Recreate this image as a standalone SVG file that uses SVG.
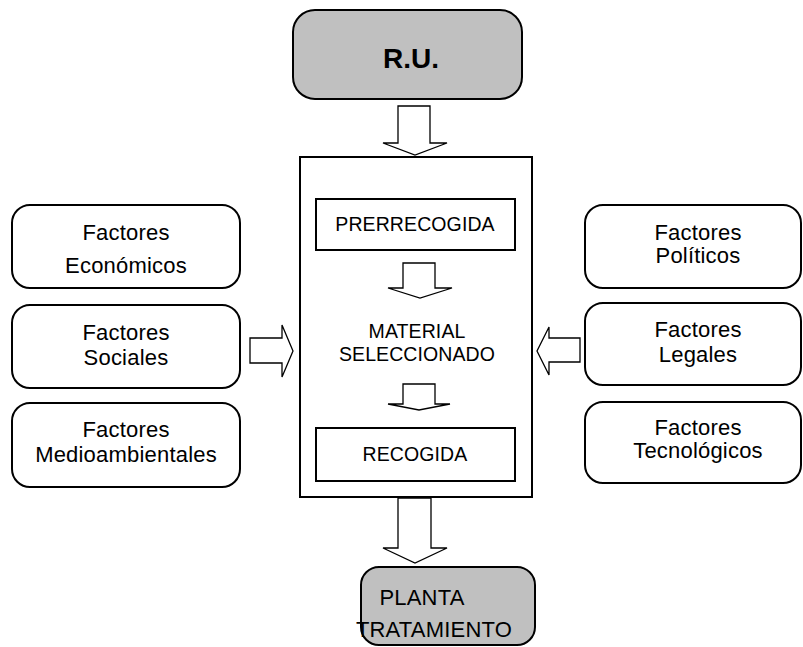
<svg xmlns="http://www.w3.org/2000/svg" width="803" height="647" viewBox="0 0 803 647">
  <style>
    .box { fill: #ffffff; stroke: #000000; stroke-width: 2; }
    .grey { fill: #c0c0c0; stroke: #000000; stroke-width: 2; }
    .arrow { fill: #ffffff; stroke: #000000; stroke-width: 1.3; stroke-linejoin: miter; }
    text { font-family: "Liberation Sans", Arial, sans-serif; font-size: 22px; letter-spacing: 0.2px; fill: #000000; text-anchor: middle; }
    .inner { font-size: 19.5px; letter-spacing: 0.1px; }
    .title { font-size: 28px; font-weight: bold; letter-spacing: 0; }
  </style>

  <!-- source node -->
  <g id="ru">
    <rect class="grey" x="293" y="10" width="229" height="89" rx="22" ry="22"/>
    <text class="title" x="411" y="68">R.U.</text>
  </g>

  <!-- central process block -->
  <g id="proceso">
    <rect class="box" x="300" y="157" width="232" height="340"/>
  </g>
  <g id="prerrecogida">
    <rect class="box" x="316" y="199" width="199" height="51"/>
    <text class="inner" x="415" y="231">PRERRECOGIDA</text>
  </g>
  <g id="material">
    <text class="inner" x="417" y="338">MATERIAL</text>
    <text class="inner" x="417" y="361">SELECCIONADO</text>
  </g>
  <g id="recogida">
    <rect class="box" x="316" y="428" width="199" height="53"/>
    <text class="inner" x="415" y="461">RECOGIDA</text>
  </g>

  <!-- left factors -->
  <g id="economicos">
    <rect class="box" x="12" y="205" width="228" height="83" rx="18" ry="18"/>
    <text x="126" y="240">Factores</text>
    <text x="126" y="273">Económicos</text>
  </g>
  <g id="sociales">
    <rect class="box" x="12" y="305" width="228" height="83" rx="18" ry="18"/>
    <text x="126" y="340">Factores</text>
    <text x="126" y="365">Sociales</text>
  </g>
  <g id="medioambientales">
    <rect class="box" x="12" y="403" width="228" height="84" rx="18" ry="18"/>
    <text x="126" y="437">Factores</text>
    <text x="126" y="462">Medioambientales</text>
  </g>

  <!-- right factors -->
  <g id="politicos">
    <rect class="box" x="585" y="205" width="216" height="83" rx="18" ry="18"/>
    <text x="698" y="240">Factores</text>
    <text x="698" y="263">Políticos</text>
  </g>
  <g id="legales">
    <rect class="box" x="585" y="303" width="216" height="82" rx="18" ry="18"/>
    <text x="698" y="337">Factores</text>
    <text x="698" y="362">Legales</text>
  </g>
  <g id="tecnologicos">
    <rect class="box" x="585" y="402" width="216" height="81" rx="18" ry="18"/>
    <text x="698" y="435">Factores</text>
    <text x="698" y="458">Tecnológicos</text>
  </g>

  <!-- destination node -->
  <g id="planta">
    <rect class="grey" x="361" y="567" width="174" height="78" rx="18" ry="18"/>
    <text x="422" y="605">PLANTA</text>
    <text x="434" y="637">TRATAMIENTO</text>
  </g>

  <!-- block arrows -->
  <g id="connectors">
    <path class="arrow" d="M398,106 H430 V143 H447 L415,155 L383,143 H398 Z"/>
    <path class="arrow" d="M403,263 H435 V288 H452 L420,298 L388,288 H403 Z"/>
    <path class="arrow" d="M403,384 H435 V404 H450 L419,410 L388,404 H403 Z"/>
    <path class="arrow" d="M398,498 H431 V548 H447 L415,563 L383,548 H398 Z"/>
    <path class="arrow" d="M250,338 H282 V325 L293,351 L282,377 V363 H250 Z"/>
    <path class="arrow" d="M580,338 H549 V327 L537,351 L549,375 V362 H580 Z"/>
  </g>
</svg>
